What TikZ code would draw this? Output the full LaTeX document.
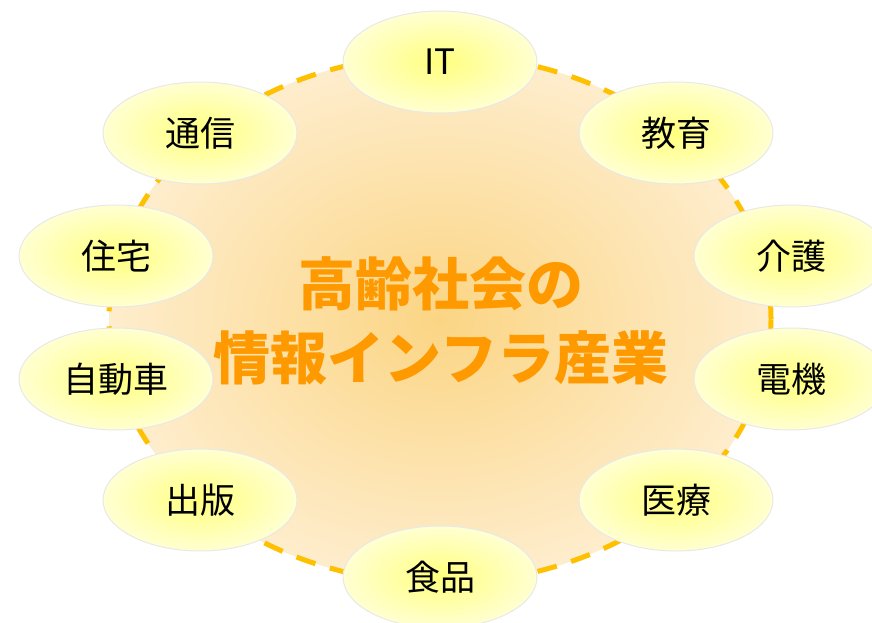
\documentclass[tikz,border=0pt]{standalone}
\usepackage{fontspec}
\setmainfont{Noto Sans CJK JP}
\usepackage{tikz}
\usetikzlibrary{positioning, shapes.geometric}
\definecolor{ringcore}{HTML}{FBD584}
\definecolor{ringrim}{HTML}{FEEDCD}
\definecolor{ringline}{HTML}{FFC000}
\definecolor{bubcore}{HTML}{FFFF7E}
\definecolor{bubrim}{HTML}{FFFFD2}
\definecolor{headline}{HTML}{FF9900}
\tikzstyle{bubble}=[ellipse, draw=black!9, line width=1pt, inner color=bubcore, outer color=bubrim, minimum width=194pt, minimum height=102pt, font=\fontsize{35}{40}\selectfont]
\tikzstyle{headline}=[align=center, text=headline, font=\fontsize{57}{74}\selectfont\bfseries]

\begin{document}
\begin{tikzpicture}[x=1pt, y=-1pt]
  \useasboundingbox (0,0) rectangle (872,623);
  \shade[inner color=ringcore, outer color=ringrim] (440,319) ellipse [x radius=331pt, y radius=264pt];
  \draw[ringline, line width=5pt, dash pattern=on 20pt off 15pt] (440,319) ellipse [x radius=331pt, y radius=264pt];
  \node[bubble] (it) at (440,62) {IT};
  \node[bubble] (comm) at (200,133) {通信};
  \node[bubble] (edu) at (676,133) {教育};
  \node[bubble] (house) at (116,256) {住宅};
  \node[bubble] (car) [below=20pt of house] {自動車};
  \node[bubble] (care) at (791,256) {介護};
  \node[bubble] (elec) [below=20pt of care] {電機};
  \node[bubble] (pub) at (200,500) {出版};
  \node[bubble] (med) at (676,500) {医療};
  \node[bubble] (food) at (440,577) {食品};
  \node[headline] (title) at (441,321) {高齢社会の\\情報インフラ産業};
\end{tikzpicture}
\end{document}
